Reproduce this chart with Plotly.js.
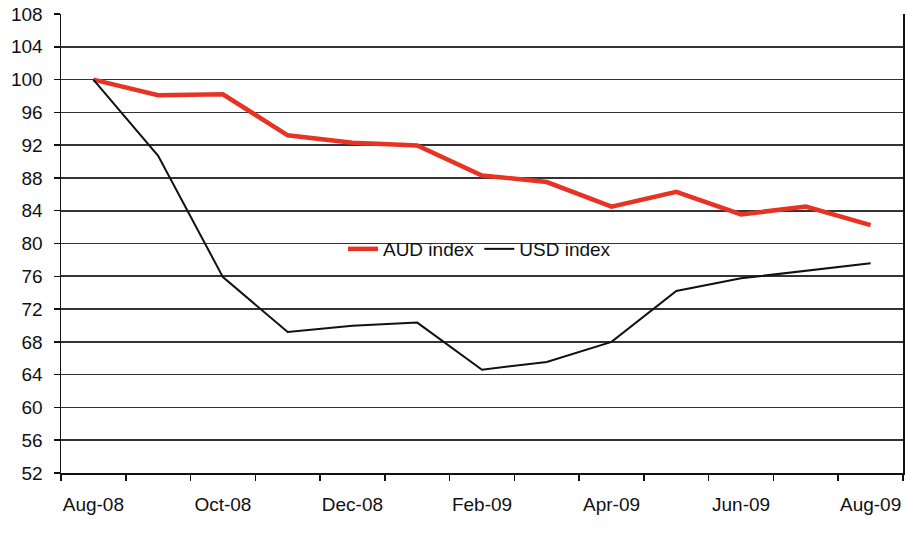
<!DOCTYPE html>
<html>
<head>
<meta charset="utf-8">
<script src="https://cdn.plot.ly/plotly-3.0.1.min.js"></script>
<style>html,body{margin:0;padding:0;background:#fff;}#chart{width:906px;height:539px;}</style>
</head>
<body>
<div id="chart"></div>
<script>
var months = ["Aug-08","Sep-08","Oct-08","Nov-08","Dec-08","Jan-09","Feb-09","Mar-09","Apr-09","May-09","Jun-09","Jul-09","Aug-09"];
var tickLabels = ["Aug-08","","Oct-08","","Dec-08","","Feb-09","","Apr-09","","Jun-09","","Aug-09"];
var audIndex = [100, 98.1, 98.2, 93.2, 92.3, 91.95, 88.3, 87.5, 84.5, 86.3, 83.55, 84.5, 82.25];
var usdIndex = [100, 90.7, 75.9, 69.2, 69.95, 70.35, 64.6, 65.55, 68.0, 74.2, 75.75, 76.7, 77.6];
var yTicks = [52,56,60,64,68,72,76,80,84,88,92,96,100,104,108];

var traces = [
  {x: months, y: audIndex, name: "AUD index", type: "scatter", mode: "lines",
   line: {color: "#e63323", width: 4.5}},
  {x: months, y: usdIndex, name: "USD index", type: "scatter", mode: "lines",
   line: {color: "#111111", width: 2}}
];

var layout = {
  width: 906, height: 539,
  margin: {l: 61, r: 3, t: 14, b: 66},
  paper_bgcolor: "#ffffff", plot_bgcolor: "#ffffff",
  font: {family: "Liberation Sans, Arial, sans-serif", size: 19, color: "#111"},
  showlegend: true,
  legend: {orientation: "h", x: 0.497, y: 0.488, xanchor: "center", yanchor: "middle",
           bgcolor: "rgba(0,0,0,0)", font: {size: 19, color: "#111"}, itemwidth: 30, tracegroupgap: 0},
  xaxis: {type: "category", range: [-0.5, 12.5], tickmode: "array", tickvals: months, ticktext: tickLabels,
          tickson: "boundaries", ticks: "outside", ticklen: 6, tickwidth: 1.5, tickcolor: "#111",
          tickangle: 0, automargin: false,
          showline: true, linecolor: "#111", linewidth: 1.5, showgrid: false, zeroline: false,
          tickfont: {size: 19, color: "#111"}, ticklabelstandoff: 14, fixedrange: true},
  yaxis: {range: [52, 108], tickmode: "array", tickvals: yTicks, ticks: "outside", ticklen: 6,
          tickwidth: 1.5, tickcolor: "#111", showline: true, mirror: true, linecolor: "#111", linewidth: 1.5,
          showgrid: true, gridcolor: "#333333", gridwidth: 1.6, zeroline: false, automargin: false,
          tickfont: {size: 19, color: "#111"}, ticklabelstandoff: 7, fixedrange: true}
};

Plotly.newPlot("chart", traces, layout, {displayModeBar: false, staticPlot: true});
</script>
</body>
</html>
